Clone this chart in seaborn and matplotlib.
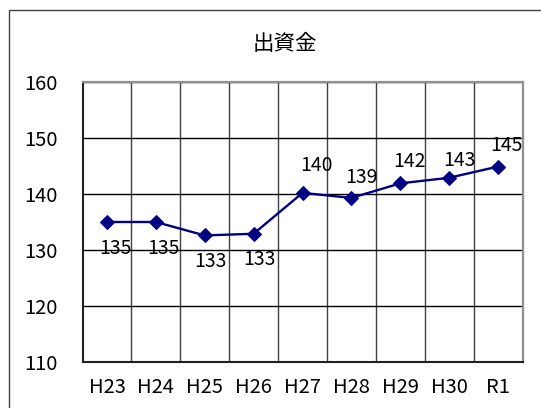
import matplotlib
matplotlib.use("Agg")
import matplotlib.pyplot as plt
from matplotlib.patches import Rectangle
from matplotlib.ticker import MultipleLocator
import pandas as pd
import seaborn as sns

# 出資金の推移
years = ["H23", "H24", "H25", "H26", "H27", "H28", "H29", "H30", "R1"]
amounts = [135.0, 135.0, 132.6, 132.9, 140.2, 139.3, 141.9, 142.9, 144.9]
title = "出資金"

# label placement in pixels (dx, dy) relative to each point
label_offsets = [(8, -27), (8, -27), (6, -26), (6, -26),
                 (14, 27), (10, 20), (9, 22), (10, 17), (8, 21)]

sns.set_theme(style="white")
plt.rcParams["font.family"] = ["Noto Sans CJK JP", "DejaVu Sans"]

W, H = 541, 408
fig = plt.figure(figsize=(W / 100, H / 100), dpi=100)

# outer chart frame
fig.patches.append(Rectangle((9 / W, -0.1), 1.2, 1 - 10 / H + 0.1,
                             transform=fig.transFigure, fill=False,
                             edgecolor="#404040", linewidth=1.0))

ax = fig.add_axes([82.5 / W, 1 - 362 / H, 440 / W, 280 / H])

df = pd.DataFrame({"year": years, "amount": amounts})
df["pos"] = range(len(years))
sns.lineplot(data=df, x="pos", y="amount", ax=ax, color="#000080",
             linewidth=1.7, marker="D", markersize=7.5,
             markeredgecolor="#000080", markerfacecolor="#000080")

for i, (v, (dx, dy)) in enumerate(zip(amounts, label_offsets)):
    ax.annotate(f"{round(v):d}", (i, v), xytext=(dx, dy),
                textcoords="offset pixels", ha="center", va="center",
                fontsize=14, color="black")

ax.set_xlim(-0.5, len(years) - 0.5)
ax.set_ylim(110, 160)
ax.yaxis.set_major_locator(MultipleLocator(10))
ax.set_xticks(range(len(years)))
ax.set_xticklabels(years)
ax.set_xticks([i + 0.5 for i in range(len(years) - 1)], minor=True)
ax.tick_params(axis="both", which="both", length=0, labelsize=14.5,
               colors="black")
ax.tick_params(axis="y", pad=18)
ax.tick_params(axis="x", pad=11)
ax.set_xlabel("")
ax.set_ylabel("")

ax.grid(False)
ax.yaxis.grid(True, which="major", color="black", linewidth=1.0)
ax.xaxis.grid(True, which="minor", color="#404040", linewidth=1.0)
ax.set_axisbelow(True)

for side in ("left", "bottom"):
    ax.spines[side].set_color("#202020")
    ax.spines[side].set_linewidth(1.5)
for side in ("top", "right"):
    ax.spines[side].set_color("#909090")
    ax.spines[side].set_linewidth(1.6)
    ax.spines[side].set_visible(True)

fig.text(285 / W, 1 - 44 / H, title, ha="center", va="center",
         fontsize=15.5, color="black")

fig.savefig("out.png", dpi=100)
